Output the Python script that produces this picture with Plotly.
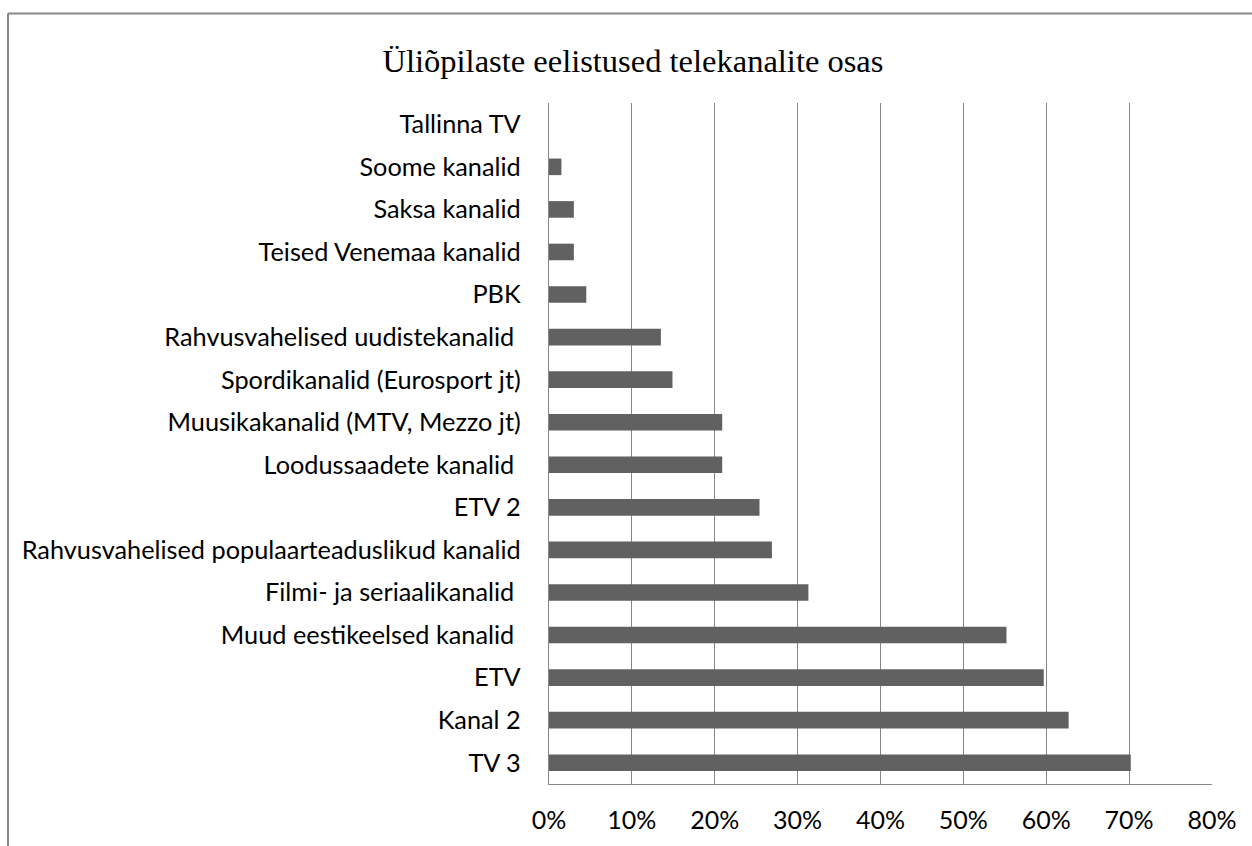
import plotly.graph_objects as go

# Data (bottom to top as drawn)
channels = [
    "TV 3",
    "Kanal 2",
    "ETV",
    "Muud eestikeelsed kanalid\u00a0",
    "Filmi- ja seriaalikanalid\u00a0",
    "Rahvusvahelised populaarteaduslikud kanalid",
    "ETV 2",
    "Loodussaadete kanalid\u00a0",
    "Muusikakanalid (MTV, Mezzo jt)",
    "Spordikanalid (Eurosport jt)",
    "Rahvusvahelised uudistekanalid\u00a0",
    "PBK",
    "Teised Venemaa kanalid",
    "Saksa kanalid",
    "Soome kanalid",
    "Tallinna TV",
]
shares = [70.2, 62.7, 59.7, 55.2, 31.3, 26.9, 25.4, 20.9, 20.9, 14.9, 13.5, 4.5, 3.0, 3.0, 1.5, 0.0]
x_ticks = [0, 10, 20, 30, 40, 50, 60, 70, 80]
x_tick_labels = ["0%", "10%", "20%", "30%", "40%", "50%", "60%", "70%", "80%"]
title_text = "Üliõpilaste eelistused telekanalite osas"

W, H = 1252, 846
L, R, T, B = 549, 40, 103, 59
pw, ph = W - L - R, H - T - B

fig = go.Figure(go.Bar(
    x=shares, y=channels, orientation="h",
    marker=dict(color="#616161", line=dict(width=0)),
    width=0.39,
    hoverinfo="skip",
))

grid = "#868686"
fig.update_layout(
    width=W, height=H,
    margin=dict(l=L, r=R, t=T, b=B),
    paper_bgcolor="white", plot_bgcolor="white",
    showlegend=False,
    title=dict(text=title_text, x=633 / W, xanchor="center", xref="container",
               y=1 - 61 / H, yanchor="middle", yref="container",
               font=dict(family="Liberation Serif, Times New Roman, serif", size=32.5, color="#000")),
    font=dict(family="Lato, Carlito, Calibri, sans-serif", size=25, color="#000"),
    xaxis=dict(range=[0, 80], tickmode="array", tickvals=x_ticks, ticktext=x_tick_labels,
               showgrid=True, gridcolor=grid, gridwidth=1.4, zeroline=False, showline=True,
               linecolor=grid, linewidth=1.4, ticks="", ticklabelstandoff=14,
               tickfont=dict(size=25, color="#000")),
    yaxis=dict(type="category", categoryorder="array", categoryarray=channels,
               showgrid=False, zeroline=False, showline=True, linecolor=grid,
               linewidth=1.4, ticks="", ticklabelstandoff=22,
               tickfont=dict(size=25.3, color="#000")),
    shapes=[
        dict(type="line", xref="paper", yref="paper",
             x0=(8 - L) / pw, x1=(W + 5 - L) / pw,
             y0=(H - B - 13) / ph, y1=(H - B - 13) / ph,
             line=dict(color="#888888", width=2)),
        dict(type="line", xref="paper", yref="paper",
             x0=(8 - L) / pw, x1=(8 - L) / pw,
             y0=(H - B - 13) / ph, y1=(-B - 5) / ph,
             line=dict(color="#888888", width=2)),
    ],
)

fig.write_html("out.html", config={"displayModeBar": False},
               post_script="document.body.style.margin='0';document.body.style.overflow='hidden';")
